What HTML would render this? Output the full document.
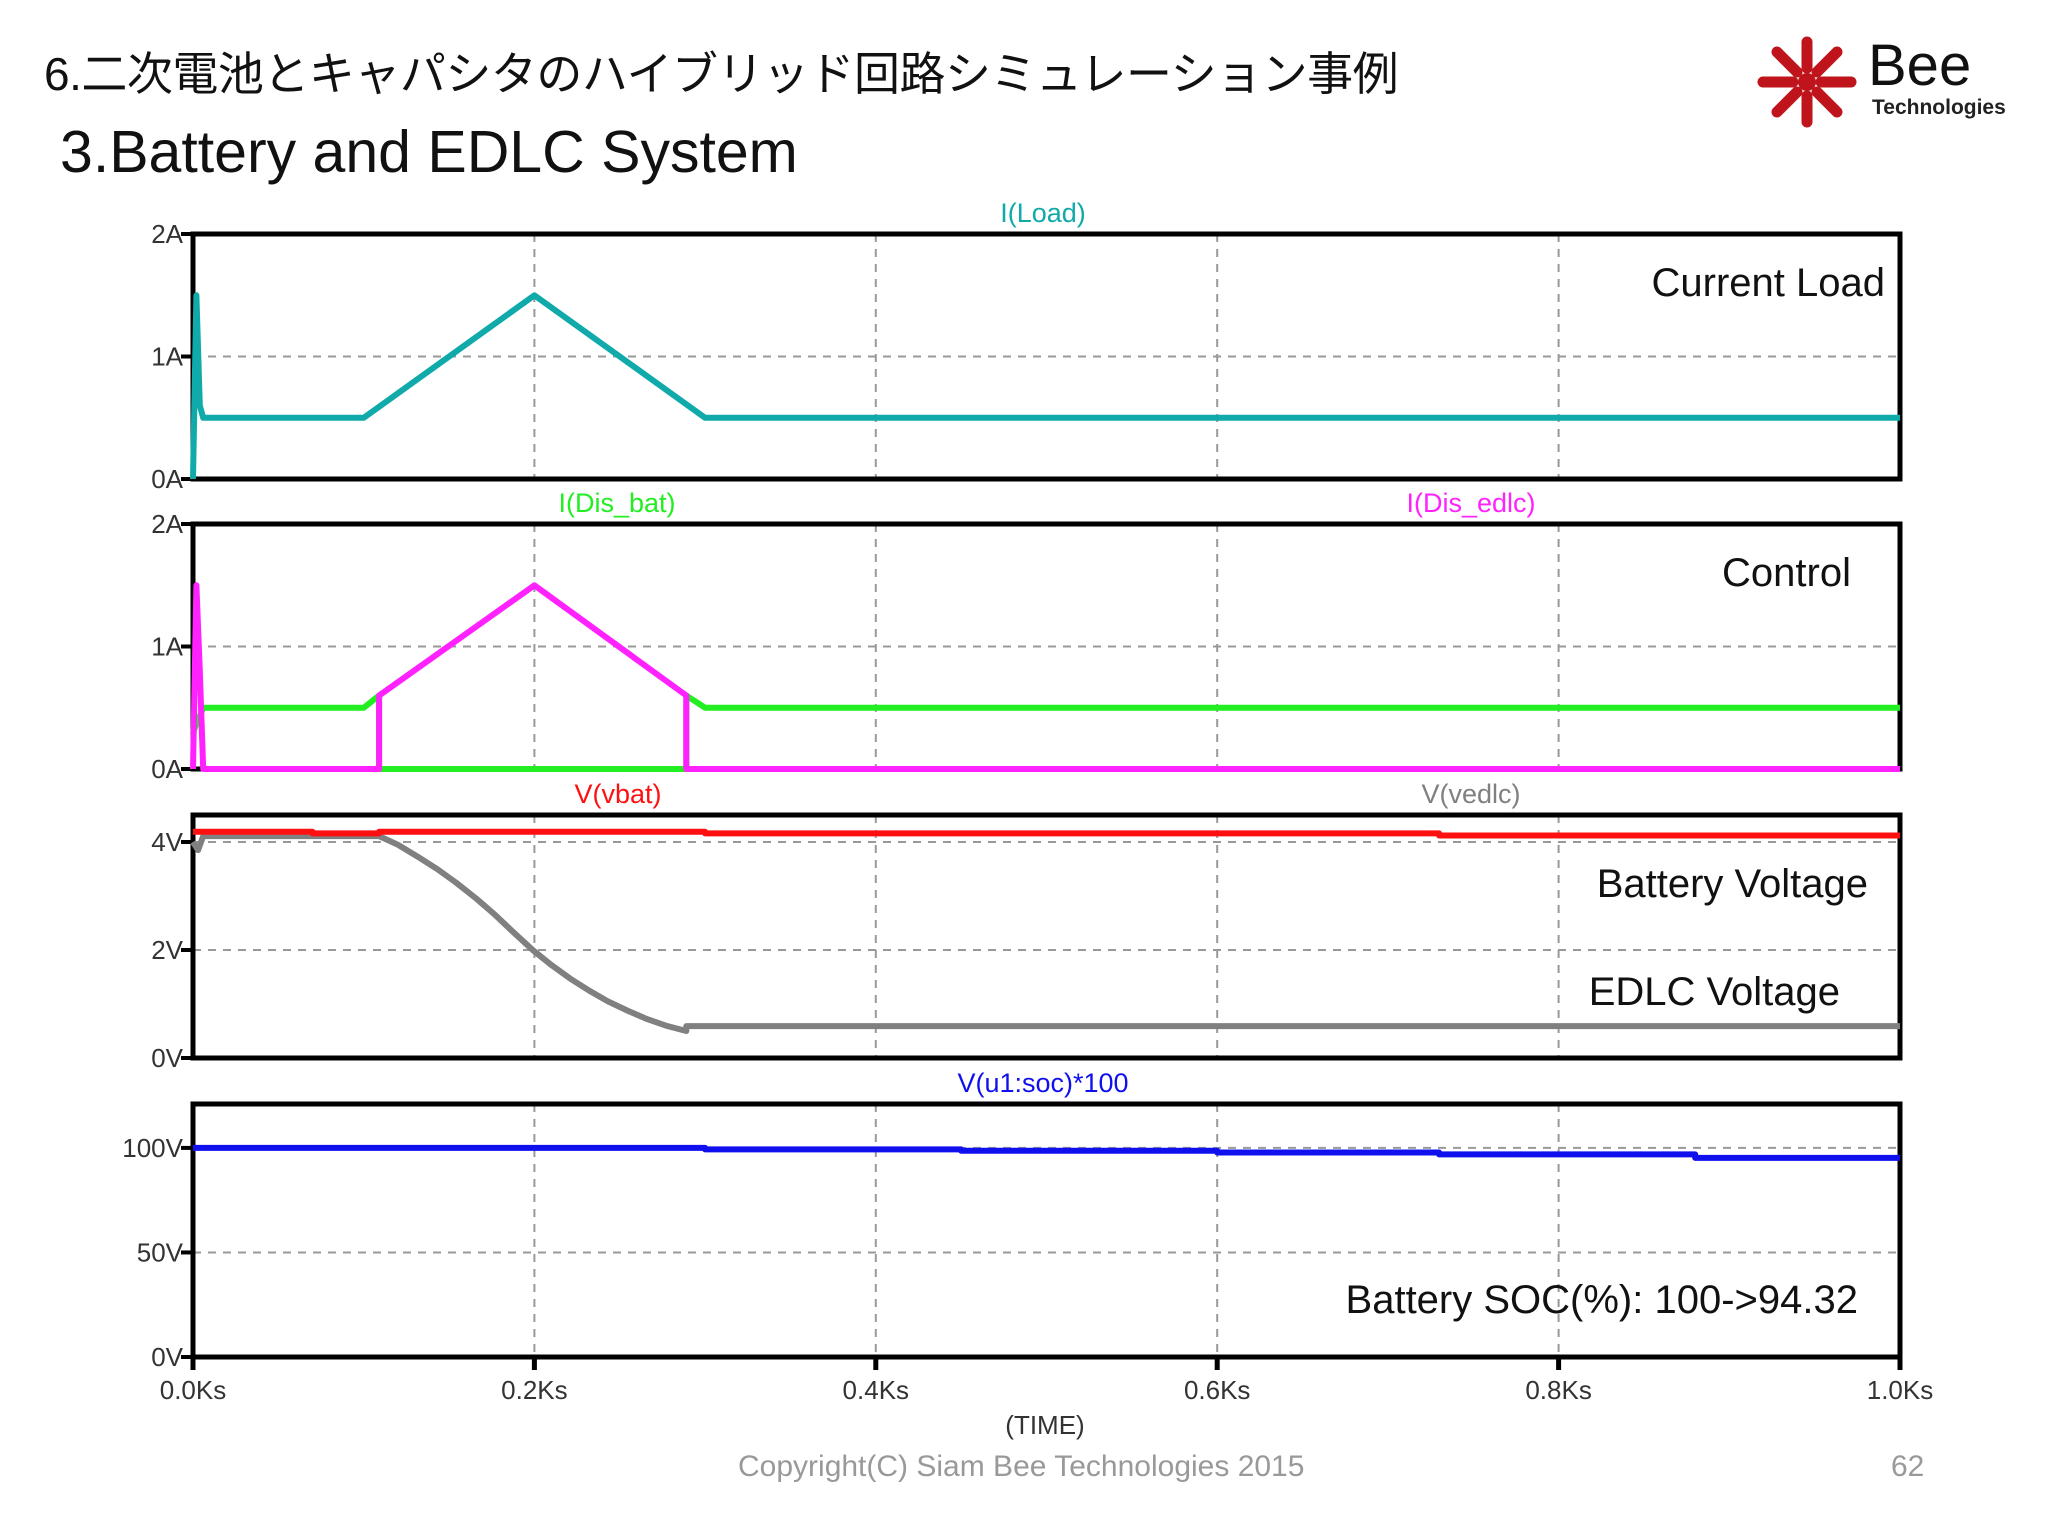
<!DOCTYPE html>
<html><head><meta charset="utf-8"><style>
body{margin:0;background:#fff;}
#page{position:relative;width:2048px;height:1536px;overflow:hidden;background:#fff;font-family:"Liberation Sans","Noto Sans CJK JP",sans-serif;}
.t{position:absolute;white-space:nowrap;}
</style></head><body>
<div id="page">
<div class="t" style="left:44px;top:38px;font-size:46px;color:#111;letter-spacing:-0.5px;font-family:'Liberation Sans','Noto Sans CJK JP',sans-serif;">6.二次電池とキャパシタのハイブリッド回路シミュレーション事例</div>
<div class="t" style="left:60px;top:118px;font-size:59px;color:#111;">3.Battery and EDLC System</div>
<svg style="position:absolute;left:1750px;top:30px" width="290" height="100">
<g transform="translate(57,52)" stroke="#c0141c" stroke-width="11" stroke-linecap="round">
<line x1="14" y1="0" x2="44" y2="0"/><line x1="-14" y1="0" x2="-44" y2="0"/><line x1="0" y1="14" x2="0" y2="40"/><line x1="0" y1="-14" x2="0" y2="-40"/>
<line x1="10" y1="10" x2="30" y2="30"/><line x1="-10" y1="10" x2="-30" y2="30"/><line x1="10" y1="-10" x2="30" y2="-30"/><line x1="-10" y1="-10" x2="-30" y2="-30"/>
<circle r="9" fill="#c0141c" stroke="none"/></g>
<text x="118" y="55" font-size="58" font-family="Liberation Sans" fill="#111">Bee</text>
<text x="122" y="84" font-size="21" font-weight="bold" font-family="Liberation Sans" fill="#222">Technologies</text>
</svg>
<svg id="chart" width="2048" height="1536" style="position:absolute;left:0;top:0"></svg>
<div class="t" style="left:738px;top:1450px;font-size:30px;color:#999;">Copyright(C) Siam Bee Technologies 2015</div>
<div class="t" style="left:1891px;top:1450px;font-size:30px;color:#999;">62</div>
</div>
<script>
// time axis (Ks)
const xTicks=[0,0.2,0.4,0.6,0.8,1.0];
const xTickLabels=["0.0Ks","0.2Ks","0.4Ks","0.6Ks","0.8Ks","1.0Ks"];
// I(Load)
const loadT=[0,0.002,0.004,0.006,0.1,0.2,0.3,1.0];
const loadV=[0,1.5,0.6,0.5,0.5,1.5,0.5,0.5];
// I(Dis_bat)
const batT=[0,0.006,0.1,0.109,0.109,0.289,0.289,0.3,1.0];
const batV=[0.3,0.5,0.5,0.6,0,0,0.6,0.5,0.5];
// I(Dis_edlc)
const edlcT=[0,0.002,0.004,0.006,0.109,0.109,0.2,0.289,0.289,1.0];
const edlcV=[0,1.5,0.8,0,0,0.6,1.5,0.6,0,0];
// V(vbat)
const vbatT=[0,0.07,0.07,0.109,0.109,0.3,0.3,0.73,0.73,1.0];
const vbatV=[4.19,4.19,4.16,4.16,4.19,4.19,4.16,4.16,4.12,4.12];
// V(vedlc)
const vedT=[0,0.003,0.006,0.109,0.12,0.132,0.143,0.154,0.166,0.177,0.188,0.199,0.21,0.221,0.232,0.243,0.255,0.266,0.277,0.289,0.289,1.0];
const vedV=[4.0,3.85,4.11,4.11,3.95,3.72,3.5,3.25,2.95,2.65,2.32,2.0,1.72,1.47,1.25,1.05,0.87,0.72,0.6,0.5,0.59,0.59];
// V(u1:soc)*100
const socT=[0,0.3,0.3,0.45,0.45,0.6,0.6,0.73,0.73,0.88,0.88,1.0];
const socV=[100,100,99.3,99.3,98.6,98.6,97.8,97.8,96.9,96.9,95.2,95.2];

const svg=document.getElementById('chart');
const NS='http://www.w3.org/2000/svg';
const X0=193,X1=1900;
const x=t=>X0+(X1-X0)*t;
function mk(tag,at,parent){const e=document.createElementNS(NS,tag);for(const k in at)e.setAttribute(k,at[k]);(parent||svg).appendChild(e);return e;}
const panels=[
 {name:'current-load',top:234,bot:479,max:2,ticks:[0,1,2],labels:['0A','1A','2A'],grid:[1]},
 {name:'control',top:524,bot:769,max:2,ticks:[0,1,2],labels:['0A','1A','2A'],grid:[1]},
 {name:'voltage',top:815,bot:1058,max:4.5,ticks:[0,2,4],labels:['0V','2V','4V'],grid:[2,4]},
 {name:'soc',top:1104,bot:1357,max:121,ticks:[0,50,100],labels:['0V','50V','100V'],grid:[50,100]}
];
panels.forEach((p,pi)=>{
 p.y=v=>p.bot-(p.bot-p.top)*v/p.max;
 const g=mk('g',{});
 
 
 xTicks.slice(1,-1).forEach(t=>{const l=mk('line',{x1:x(t),x2:x(t),y1:p.top,y2:p.bot,stroke:'#999','stroke-width':2,'stroke-dasharray':'8,7'},g);});
 p.grid.forEach(v=>{const l=mk('line',{x1:X0,x2:X1,y1:p.y(v),y2:p.y(v),stroke:'#999','stroke-width':2,'stroke-dasharray':'8,7'},g);});
 const f=mk('rect',{x:X0,y:p.top,width:X1-X0,height:p.bot-p.top,fill:'none',stroke:'#000','stroke-width':5},g);
 
 p.ticks.forEach((v,i)=>{
  mk('line',{x1:X0-12,x2:X0,y1:p.y(v),y2:p.y(v),stroke:'#000','stroke-width':4},g);
  const tx=mk('text',{x:X0-10,y:p.y(v)+9,'text-anchor':'end','font-size':26,fill:'#333','font-family':'Liberation Sans Narrow, Liberation Sans, sans-serif'},g);
  tx.textContent=p.labels[i];
  
 });
});
xTicks.forEach((t,i)=>{
 mk('line',{x1:x(t),x2:x(t),y1:1357,y2:1370,stroke:'#000','stroke-width':5});
 const tx=mk('text',{x:x(t),y:1399,'text-anchor':'middle','font-size':26,fill:'#333','font-family':'Liberation Sans Narrow, Liberation Sans, sans-serif'});
 tx.textContent=xTickLabels[i];
 
});
const xt=mk('text',{x:1045,y:1434,'text-anchor':'middle','font-size':26,fill:'#333','font-family':'Liberation Sans Narrow, Liberation Sans, sans-serif'});
xt.textContent='(TIME)';

function series(p,T,V,color,name){
 const d=T.map((t,i)=>(i?'L':'M')+x(t).toFixed(1)+','+p.y(V[i]).toFixed(1)).join('');
 const e=mk('path',{d:d,fill:'none',stroke:color,'stroke-width':6,'stroke-linejoin':'round'});
 
}
series(panels[0],loadT,loadV,'#10aaaa','i-load-line');
series(panels[1],batT,batV,'#22ee22','i-dis-bat-line');
series(panels[1],edlcT,edlcV,'#ff22ff','i-dis-edlc-line');
series(panels[2],vedT,vedV,'#808080','v-vedlc-line');
series(panels[2],vbatT,vbatV,'#ff1010','v-vbat-line');
series(panels[3],socT,socV,'#1010ee','soc-line');
function lab(txt,xx,yy,color,size,anchor,name,fam){
 const e=mk('text',{x:xx,y:yy,'text-anchor':anchor,'font-size':size,fill:color,'font-family':fam||'Liberation Sans Narrow, Liberation Sans, sans-serif'});
 e.textContent=txt;
}
lab('I(Load)',1043,222,'#10aaaa',27,'middle','legend-i-load');
lab('I(Dis_bat)',617,512,'#22ee22',27,'middle','legend-i-dis-bat');
lab('I(Dis_edlc)',1471,512,'#ff22ff',27,'middle','legend-i-dis-edlc');
lab('V(vbat)',618,803,'#ff1010',27,'middle','legend-v-vbat');
lab('V(vedlc)',1471,803,'#808080',27,'middle','legend-v-vedlc');
lab('V(u1:soc)*100',1043,1092,'#1010ee',27,'middle','legend-soc');
const F='Liberation Sans, sans-serif';
lab('Current Load',1885,296,'#111',40,'end','current-load-annotation',F);
lab('Control',1851,586,'#111',40,'end','control-annotation',F);
lab('Battery Voltage',1868,897,'#111',40,'end','battery-voltage-annotation',F);
lab('EDLC Voltage',1840,1005,'#111',40,'end','edlc-voltage-annotation',F);
lab('Battery SOC(%): 100->94.32',1858,1313,'#111',40,'end','soc-annotation',F);
</script>
</body></html>
